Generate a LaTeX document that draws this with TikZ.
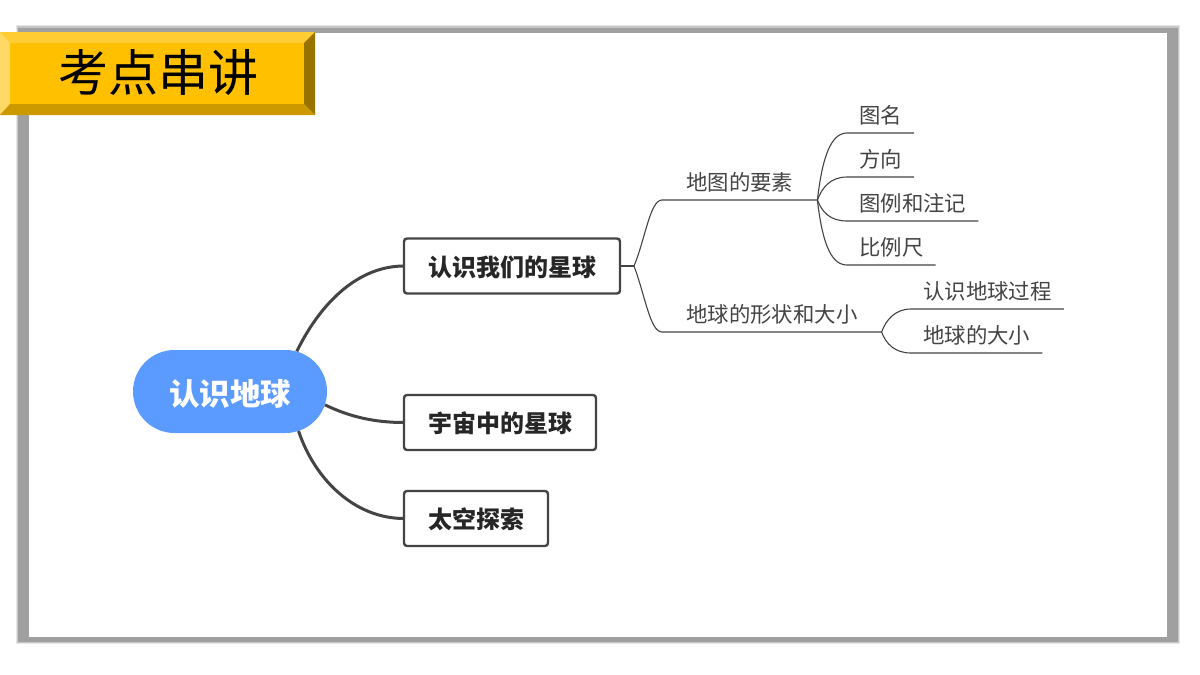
\documentclass[tikz,border=0pt]{standalone}
\usepackage{fontspec}
\setmainfont{Noto Sans CJK SC}
\usetikzlibrary{shapes.misc}
\definecolor{linegray}{HTML}{444444}
\definecolor{framegray}{HTML}{A0A0A0}
\definecolor{rootblue}{HTML}{5B9BFF}
\definecolor{platemid}{HTML}{FFC000}
\definecolor{platetop}{HTML}{FFCD33}
\definecolor{plateleft}{HTML}{FFD966}
\definecolor{platebottom}{HTML}{CC9A00}
\definecolor{plateright}{HTML}{997300}
\tikzset{
	mainline/.style={draw=linegray,line width=3pt},
	subline/.style={draw=linegray,line width=1.1pt},
	root/.style={rounded rectangle,fill=rootblue,text=white,font=\fontsize{30.5}{34}\selectfont\bfseries,minimum width=194pt,minimum height=83pt,inner sep=0pt,text height=31pt,text depth=4pt},
	topic/.style={draw=linegray,line width=2.4pt,rounded corners=3pt,fill=white,text=black!85,font=\fontsize{24}{28}\selectfont\bfseries,anchor=west,minimum height=55pt,inner xsep=24pt,inner ysep=0pt,outer sep=0pt,text height=23pt,text depth=3pt},
	branch/.style={anchor=south west,text=linegray,font=\fontsize{21.4}{24}\selectfont,inner xsep=24pt,inner ysep=5pt,text height=19pt,text depth=4pt},
	leaf/.style={branch,inner xsep=12pt},
	badge/.style={text=black,font=\fontsize{50}{56}\selectfont,minimum width=295pt,minimum height=61pt,inner sep=0pt}
}
\begin{document}
\begin{tikzpicture}[x=1pt,y=-1pt]
	\useasboundingbox (0,0) rectangle (1200,675);
	% frame
	\fill[framegray!25] (16,25) rectangle (1180,644);
	\fill[framegray!60] (17,26) rectangle (1179,643);
	\fill[framegray] (18,28) rectangle (1178,642);
	\fill[white] (29,33) rectangle (1167,637);
	% title plate
	\fill[platemid] (0,32) rectangle (315,115);
	\fill[platetop] (0,32) -- (315,32) -- (304,43) -- (10,43) -- cycle;
	\fill[plateleft] (0,32) -- (10,43) -- (10,104) -- (0,115) -- cycle;
	\fill[platebottom] (0,115) -- (10,104) -- (304,104) -- (315,115) -- cycle;
	\fill[plateright] (315,32) -- (304,43) -- (304,104) -- (315,115) -- cycle;
	\node [badge] (title) at (158.5,72) {考点串讲};

	\node [root] (earth) at (230,391.5) {认识地球};
	\node [topic] (planet) at (404,266) {认识我们的星球};
	\node [topic] (universe) at (404,422.5) {宇宙中的星球};
	\node [topic] (space) at (404,518.5) {太空探索};

	\node [branch] (elements) at (662,200) {地图的要素};
	\node [branch] (shape) at (662,332) {地球的形状和大小};
	\coordinate (fork) at (634,266);

	\node [leaf] (mapname) at (847,133) {图名};
	\node [leaf] (direction) at (847,177) {方向};
	\node [leaf] (legend) at (847,221) {图例和注记};
	\node [leaf] (scale) at (847,265) {比例尺};
	\node [leaf] (process) at (911,309) {认识地球过程};
	\node [leaf] (size) at (911,353) {地球的大小};

	\draw [mainline] (earth.31) .. controls (322,300) and (360,266) .. (planet.west);
	\draw [mainline] (earth.-8) .. controls (350,417) and (375,422.5) .. (universe.west);
	\draw [mainline] (earth.-30) .. controls (315,480) and (355,518.5) .. (space.west);

	\draw [subline] (planet.east) -- (fork);
	\draw [subline] (fork) .. controls (645,240) and (650,200) .. (elements.south west) -- (elements.south east);
	\draw [subline] (fork) .. controls (645,295) and (650,332) .. (shape.south west) -- (shape.south east);
	\draw [subline] (elements.south east) .. controls (822,160) and (830,133) .. (mapname.south west) -- (mapname.south east);
	\draw [subline] (elements.south east) .. controls (822,188) and (830,177) .. (direction.south west) -- (direction.south east);
	\draw [subline] (elements.south east) .. controls (822,212) and (830,221) .. (legend.south west) -- (legend.south east);
	\draw [subline] (elements.south east) .. controls (822,240) and (830,265) .. (scale.south west) -- (scale.south east);
	\draw [subline] (shape.south east) .. controls (886,320) and (895,309) .. (process.south west) -- (process.south east);
	\draw [subline] (shape.south east) .. controls (886,344) and (895,353) .. (size.south west) -- (size.south east);
\end{tikzpicture}
\end{document}
